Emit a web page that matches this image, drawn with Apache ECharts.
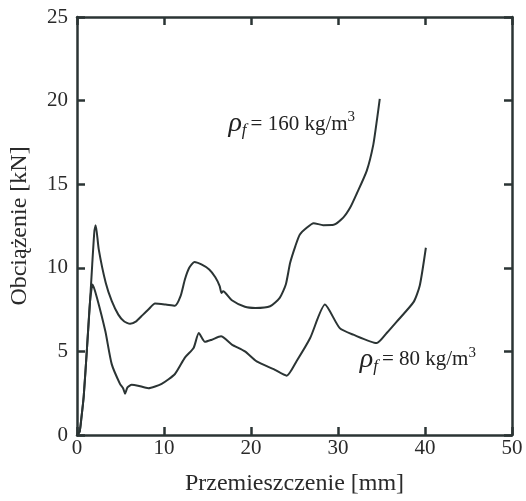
<!DOCTYPE html>
<html lang="pl">
<head>
  <meta charset="UTF-8">
  <title>Obciążenie - przemieszczenie</title>
  <script src="https://cdn.jsdelivr.net/npm/echarts@6/dist/echarts.min.js"></script>
  <style>
    html, body { margin: 0; padding: 0; background: #fff; }
  </style>
</head>
<body>
<div id="box" style="width: 526px;height: 501px;"></div>
<script>
  // dane: przemieszczenie [mm] i obciążenie [kN]
  var x160 = [0, 0.3, 0.5, 0.77, 1.15, 1.5, 1.75, 2.0, 2.15, 2.5, 3.3, 4.0, 4.75, 5.4, 6.1, 6.8, 7.4, 8.2, 8.97, 10.2, 11.26, 11.9, 12.4, 12.9, 13.5, 14.3, 15.2, 15.9, 16.4, 16.6, 16.8, 17.8, 19.3, 20.5, 22.2, 23.3, 24.0, 24.5, 25.1, 25.6, 26.4, 27.2, 28.3, 29.5, 30.6, 31.4, 32.15, 33.3, 34.06, 34.5, 34.8];
  var y160 = [0, 0.2, 1.0, 2.3, 5.2, 8.0, 10.2, 12.2, 12.55, 11.1, 9.1, 8.0, 7.2, 6.8, 6.65, 6.8, 7.1, 7.5, 7.86, 7.8, 7.73, 8.3, 9.3, 10.0, 10.35, 10.2, 9.9, 9.43, 8.9, 8.5, 8.6, 8.06, 7.67, 7.6, 7.7, 8.2, 9.0, 10.3, 11.3, 11.98, 12.4, 12.67, 12.55, 12.57, 13.0, 13.6, 14.43, 15.8, 17.37, 18.94, 20.1];

  var x80 = [0, 0.3, 0.5, 0.77, 1.15, 1.5, 1.8, 2.3, 3.26, 3.99, 4.94, 5.3, 5.52, 5.8, 6.28, 7.0, 8.2, 9.73, 11.26, 12.4, 13.4, 14.0, 14.7, 15.5, 16.55, 17.8, 19.3, 20.65, 22.6, 24.1, 25.25, 26.8, 28.5, 30.2, 31.76, 34.45, 35.6, 36.75, 38.7, 39.4, 40.1];
  var y80 = [0, 0.2, 1.0, 2.3, 5.2, 8.0, 9.0, 8.2, 6.2, 4.24, 3.06, 2.8, 2.47, 2.85, 3.0, 2.95, 2.8, 3.06, 3.65, 4.63, 5.2, 6.1, 5.57, 5.7, 5.9, 5.41, 5.0, 4.4, 3.94, 3.55, 4.43, 5.8, 7.8, 6.39, 6.0, 5.5, 6.1, 6.78, 7.96, 8.94, 11.2];

  var xTicks = [0, 10, 20, 30, 40, 50];
  var yTicks = [0, 5, 10, 15, 20, 25];

  // miejsca podpisów krzywych (w jednostkach osi)
  var label160 = [17.4, 18.6];
  var label80 = [32.5, 4.5];

  function pairs(xs, ys) {
    var out = [];
    for (var i = 0; i < xs.length; i++) out.push([xs[i], ys[i]]);
    return out;
  }

  var ink = '#2b3434';
  var serif = 'Liberation Serif';

  var myChart = echarts.init(document.getElementById('box'));

  var tickStyle = {show: true, inside: true, length: 8, lineStyle: {color: ink, width: 2.5}};
  var lineStyle = {show: true, onZero: false, lineStyle: {color: ink, width: 2.5}};

  var option = {
    animation: false,
    backgroundColor: '#fff',
    grid: {left: 77, right: 14, top: 17, bottom: 59},
    xAxis: [{
      type: 'value', min: xTicks[0], max: xTicks[xTicks.length - 1], interval: 10,
      name: 'Przemieszczenie [mm]', nameLocation: 'middle', nameGap: 37,
      nameTextStyle: {fontFamily: serif, fontSize: 24, color: '#2a2a2a'},
      axisLine: lineStyle, axisTick: tickStyle, splitLine: {show: false},
      axisLabel: {fontFamily: serif, fontSize: 21, color: '#2a2a2a', margin: 3}
    }, {
      type: 'value', position: 'top', min: xTicks[0], max: xTicks[xTicks.length - 1], interval: 10,
      axisLine: lineStyle, axisTick: tickStyle, splitLine: {show: false}, axisLabel: {show: false}
    }],
    yAxis: [{
      type: 'value', min: yTicks[0], max: yTicks[yTicks.length - 1], interval: 5,
      name: 'Obciążenie [kN]', nameLocation: 'middle', nameGap: 45,
      nameTextStyle: {fontFamily: serif, fontSize: 24, color: '#2a2a2a'},
      axisLine: lineStyle, axisTick: tickStyle, splitLine: {show: false},
      axisLabel: {fontFamily: serif, fontSize: 21, color: '#2a2a2a', margin: 9}
    }, {
      type: 'value', position: 'right', min: yTicks[0], max: yTicks[yTicks.length - 1], interval: 5,
      axisLine: lineStyle, axisTick: tickStyle, splitLine: {show: false}, axisLabel: {show: false}
    }],
    series: [{
      name: '160', type: 'line', data: pairs(x160, y160), showSymbol: false, symbol: 'none',
      smooth: 0.2, lineStyle: {color: ink, width: 2}
    }, {
      name: '80', type: 'line', data: pairs(x80, y80), showSymbol: false, symbol: 'none',
      smooth: 0.2, lineStyle: {color: ink, width: 2}
    }]
  };
  myChart.setOption(option);

  // podpisy krzywych z gęstością ρf
  function densityLabel(pos, value) {
    var p = myChart.convertToPixel({xAxisIndex: 0, yAxisIndex: 0}, pos);
    return {
      type: 'text', x: p[0], y: p[1],
      style: {
        text: '{r|ρ}{f|f}{t|= ' + value + ' kg/m}{s|3}',
        verticalAlign: 'middle',
        rich: {
          r: {fontFamily: serif, fontStyle: 'italic', fontSize: 28, fill: '#222', lineHeight: 30, verticalAlign: 'middle'},
          f: {fontFamily: serif, fontStyle: 'italic', fontSize: 17, fill: '#222', lineHeight: 30, verticalAlign: 'bottom', padding: [0, 4, 0, 0]},
          t: {fontFamily: serif, fontSize: 21, fill: '#222', lineHeight: 30, verticalAlign: 'middle'},
          s: {fontFamily: serif, fontSize: 15, fill: '#222', lineHeight: 30, verticalAlign: 'top', padding: [1, 0, 0, 0]}
        }
      }
    };
  }
  myChart.setOption({graphic: [densityLabel(label160, 160), densityLabel(label80, 80)]});
</script>
</body>
</html>
